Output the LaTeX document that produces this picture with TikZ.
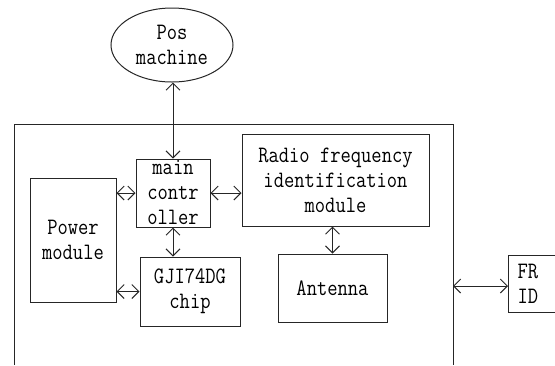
\documentclass[tikz,border=0pt]{standalone}
\usepackage{fontspec}
\newfontfamily\boxfont[FakeStretch=0.85]{Latin Modern Mono}
\usepackage{tikz}
\usetikzlibrary{arrows.meta,positioning,calc,shapes.geometric}

\tikzset{
  blk/.style={draw=black!85,line width=1pt,inner sep=0pt,align=center,
    font=\boxfont\fontsize{23.5}{25}\selectfont},
  biarrow/.style={draw=black!85,line width=1pt,
    {Straight Barb[length=7pt,width=14pt]}-{Straight Barb[length=7pt,width=14pt]}}
}

\begin{document}
\begin{tikzpicture}[x=1pt,y=-1pt]
\useasboundingbox (0,0) rectangle (555,365);
% outer board, open at the bottom
\draw[black!85,line width=1pt] (14,365) -- (14,124) -- (453,124) -- (453,365);
\coordinate (outE) at (453,286);
% blocks
\node[blk,ellipse,minimum width=122,minimum height=74] (pos) at (172,45) {Pos\\machine};
\node[blk,minimum width=74,minimum height=68] (mainc) at (173,193) {main\\contr\\oller};
\node[blk,minimum width=86,minimum height=124] (power) at (73,240) {Power\\module};
\node[blk,minimum width=100,minimum height=69] (chip) at (190,291.5) {GJI74DG\\chip};
\node[blk,minimum width=187,minimum height=92] (rfid) at (335.5,180) {Radio frequency\\identification\\module};
\node[blk,minimum width=109,minimum height=68] (ant) at (332.5,288) {Antenna};
% FRID box runs off the right edge
\node[blk,draw=none,anchor=west,minimum width=47,minimum height=56] (frid) at (508,284) {};
\node[blk,draw=none,anchor=west,align=left] (fridtxt) at ([xshift=9pt]frid.west) {FR\\ID};
\draw[black!85,line width=1pt] (frid.north east) -- (frid.north west) -- (frid.south west) -- (frid.south east);
% links
\draw[biarrow] (pos.south -| mainc.north) -- (mainc.north);
\draw[biarrow] (power.east |- mainc.west) -- (mainc.west);
\draw[biarrow] (mainc.east) -- (rfid.west |- mainc.east);
\draw[biarrow] (mainc.south) -- (chip.north -| mainc.south);
\draw[biarrow] (power.east |- chip.west) -- (chip.west);
\draw[biarrow] (rfid.south -| ant.north) -- (ant.north);
\draw[biarrow] (outE) -- (frid.west |- outE);
\end{tikzpicture}
\end{document}
